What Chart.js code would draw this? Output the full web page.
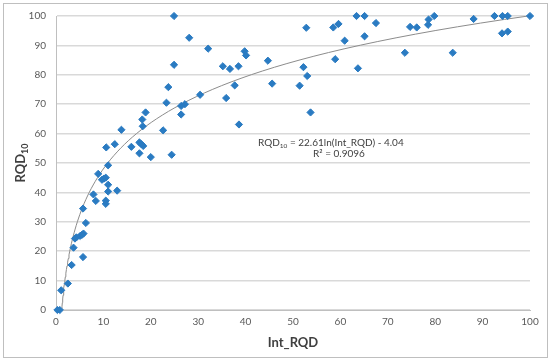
<!DOCTYPE html>
<html>
<head>
<meta charset="utf-8">
<script src="https://cdn.jsdelivr.net/npm/chart.js@4.4.1/dist/chart.umd.min.js"></script>
<style>
  html, body { margin: 0; padding: 0; background: #fff; }
  #wrap { width: 550px; height: 362px; }
</style>
</head>
<body>
<div id="wrap"><canvas id="rqdChart" width="550" height="362"></canvas></div>
<script>
// ============================================================
// RQD10 vs Int_RQD - scatter with log trendline
// ============================================================

const intRqd = [
  0.3, 0.8, 1.1, 2.5, 3.3, 5.7, 3.7, 4.0, 4.3, 5.1, 5.5, 5.8, 6.3, 5.7, 7.9, 8.4,
  10.5, 10.5, 11.0, 12.9, 9.7, 10.1, 10.5, 11.0, 8.9, 11.0, 10.6, 12.4, 13.8, 15.9,
  17.6, 18.0, 18.4, 17.6, 20.0, 24.4, 22.6, 18.2, 18.3, 18.9, 23.3, 26.4, 27.2, 26.4,
  23.7, 24.9, 24.9, 28.1, 32.1, 30.4, 35.2, 36.7, 38.5, 39.8, 40.1, 37.7, 35.9, 38.6,
  44.7, 45.6, 51.4, 52.2, 53.0, 53.7, 52.8, 58.5, 59.6, 58.9, 60.9, 63.4, 65.1, 63.7,
  65.1, 67.5, 73.6, 74.7, 76.1, 78.5, 78.6, 79.8, 83.7, 88.1, 92.5, 94.2, 95.3, 94.1,
  95.3, 100
];

const rqd10 = [
  0, 0, 6.7, 9.0, 15.3, 18.0, 21.2, 24.3, 24.7, 25.2, 25.6, 26.0, 29.6, 34.5, 39.3, 37.1,
  37.2, 36.1, 40.3, 40.6, 44.3, 44.7, 45.0, 42.6, 46.3, 49.2, 55.3, 56.4, 61.3, 55.5,
  57.0, 56.4, 55.8, 53.3, 52.0, 52.8, 61.1, 64.8, 62.5, 67.2, 70.5, 69.4, 70.0, 66.5,
  75.8, 83.4, 100, 92.6, 88.9, 73.2, 82.9, 82.0, 82.9, 88.0, 86.6, 76.4, 72.1, 63.1,
  84.8, 77.0, 76.3, 82.6, 79.6, 67.2, 96.0, 96.1, 97.3, 85.3, 91.6, 100, 100, 82.2,
  93.1, 97.6, 87.5, 96.3, 96.1, 97.0, 98.8, 100, 87.5, 99.0, 100, 100, 100, 94.1,
  94.7, 100
];

// trendline as printed on the chart: RQD10 = a*ln(Int_RQD) + b
const fitA = 22.61;
const fitB = -4.04;
const fitR2 = '0.9096';

const axisTicks = [0, 10, 20, 30, 40, 50, 60, 70, 80, 90, 100];

const FONT = 'Lato, "Open Sans", sans-serif';

function trendPoints() {
  const x0 = Math.exp(-fitB / fitA); // where the curve crosses zero
  const xMax = Math.max(...intRqd);
  const pts = [];
  const n = 80;
  for (let i = 0; i <= n; i++) {
    const x = x0 * Math.pow(xMax / x0, i / n);
    pts.push({ x, y: fitA * Math.log(x) + fitB });
  }
  return pts;
}

const framePlugin = {
  id: 'frame',
  beforeDraw(chart) {
    const { ctx } = chart;
    ctx.save();
    ctx.fillStyle = '#fff';
    ctx.fillRect(0, 0, chart.width, chart.height);
    ctx.strokeStyle = '#bfbfbf';
    ctx.lineWidth = 1;
    ctx.strokeRect(3.5, 3.5, 544, 354);
    ctx.restore();
  }
};

const labelsPlugin = {
  id: 'labels',
  afterDraw(chart) {
    const { ctx, chartArea } = chart;
    ctx.save();

    // y title with subscript, rotated
    const midY = (chartArea.top + chartArea.bottom) / 2;
    ctx.translate(21, midY);
    ctx.rotate(-Math.PI / 2);
    ctx.fillStyle = '#404040';
    ctx.textBaseline = 'middle';
    ctx.font = 'bold 13px ' + FONT;
    const wMain = ctx.measureText('RQD').width;
    ctx.font = 'bold 9px ' + FONT;
    const wSub = ctx.measureText('10').width;
    const start = -(wMain + wSub) / 2;
    ctx.font = 'bold 13px ' + FONT;
    ctx.fillText('RQD', start, 0);
    ctx.font = 'bold 9px ' + FONT;
    ctx.fillText('10', start + wMain, 4);
    ctx.setTransform(1, 0, 0, 1, 0, 0);

    // equation text
    ctx.fillStyle = '#404040';
    ctx.textBaseline = 'middle';
    let x = 258;
    const y1 = 143;
    ctx.font = '10px ' + FONT;
    ctx.fillText('RQD', x, y1);
    x += ctx.measureText('RQD').width;
    ctx.font = '6.5px ' + FONT;
    ctx.fillText('10', x, y1 + 2.5);
    x += ctx.measureText('10').width;
    ctx.font = '10px ' + FONT;
    ctx.fillText(' = ' + fitA + 'ln(Int_RQD) - ' + Math.abs(fitB), x, y1);
    ctx.fillText('R\u00B2 = ' + fitR2, 313, 154);

    ctx.restore();
  }
};

function buildChart() {
  const ctx = document.getElementById('rqdChart');
  const points = intRqd.map((x, i) => ({ x, y: rqd10[i] }));

  return new Chart(ctx, {
    type: 'scatter',
    data: {
      datasets: [
        {
          label: 'RQD10',
          data: points,
          pointStyle: 'rectRot',
          pointRadius: 3.6,
          pointBackgroundColor: '#2a7bc2',
          pointBorderColor: '#2a7bc2',
          pointBorderWidth: 1,
          clip: false,
          order: 1
        },
        {
          label: 'Log trend',
          data: trendPoints(),
          showLine: true,
          borderColor: '#8c8c8c',
          borderWidth: 1,
          pointRadius: 0,
          tension: 0,
          order: 2
        }
      ]
    },
    options: {
      responsive: false,
      animation: false,
      devicePixelRatio: 1,
      layout: { padding: { left: 0, right: 20, top: 13, bottom: 11 } },
      plugins: {
        legend: { display: false },
        tooltip: { enabled: false }
      },
      scales: {
        x: {
          type: 'linear',
          min: 0,
          max: 100,
          afterBuildTicks: s => { s.ticks = axisTicks.map(v => ({ value: v })); },
          afterFit: s => { s.height = 41; },
          ticks: { color: '#595959', font: { family: FONT, size: 10 }, padding: 6 },
          grid: { display: false, drawTicks: false },
          border: { display: true, color: '#bfbfbf', width: 1 },
          title: {
            display: true,
            text: 'Int_RQD',
            color: '#404040',
            font: { family: FONT, size: 13, weight: 'bold' },
            padding: { top: 4, bottom: 0 }
          }
        },
        y: {
          min: 0,
          max: 100,
          afterBuildTicks: s => { s.ticks = axisTicks.map(v => ({ value: v })); },
          afterFit: s => { s.width = 56; },
          ticks: { color: '#595959', font: { family: FONT, size: 10 }, padding: 10 },
          grid: { color: '#d9d9d9', lineWidth: 1.5, drawTicks: false },
          border: { display: true, color: '#bfbfbf', width: 1 }
        }
      }
    },
    plugins: [framePlugin, labelsPlugin]
  });
}

buildChart();
</script>
</body>
</html>
